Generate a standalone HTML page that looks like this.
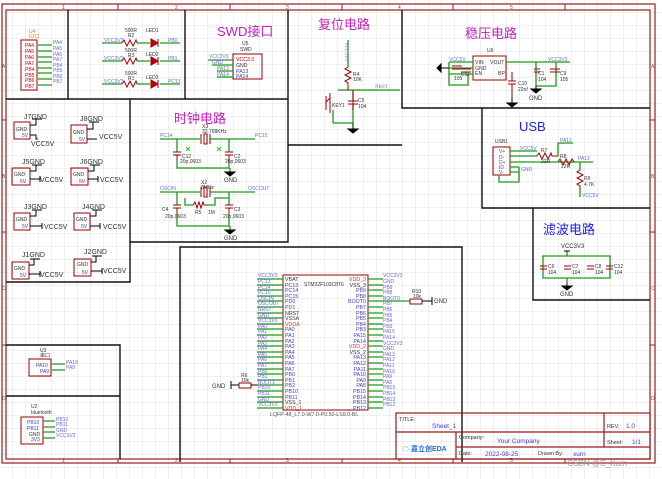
<!DOCTYPE html>
<html><head><meta charset="utf-8"><style>
html,body{margin:0;padding:0;background:#fff;}
svg{display:block;}
text{font-family:"Liberation Sans","Noto Sans CJK SC",sans-serif;}
.w{stroke:#1a9a1a;stroke-width:1.3;fill:none}
.r{stroke:#9b0000;stroke-width:1;fill:none}
.rf{stroke:#9b0000;stroke-width:1;fill:#fff}
.b{stroke:#111;stroke-width:1.4;fill:none}
.n{font-size:5px;fill:#6a6ad8;font-family:"Liberation Serif",serif}
.p{font-size:5.5px;fill:#4040c8}
.k{font-size:5px;fill:#333}
.m{fill:#c020c0;font-size:13px}
.u{fill:#2020e0;font-size:13px}
</style></head><body>
<svg width="662" height="479" viewBox="0 0 662 479" xmlns="http://www.w3.org/2000/svg">
<defs><pattern id="g" width="13" height="13" patternUnits="userSpaceOnUse"><path d="M13 0V13H0" fill="none" stroke="#e2e2e2" stroke-width="1"/></pattern></defs>
<rect width="662" height="479" fill="url(#g)"/>
<!-- frame -->
<rect x="2" y="4" width="653" height="459" fill="none" stroke="#9b1a1a" stroke-width="1.2"/>
<rect x="6" y="10" width="644" height="449" fill="none" stroke="#9b1a1a" stroke-width="1.2"/>
<g stroke="#9b1a1a"><path d="M118 4V10M230 4V10M342 4V10M453 4V10M565 4V10M118 459V463M230 459V463M342 459V463M453 459V463M565 459V463M2 120H6M2 232H6M2 345H6M650 120H655M650 232H655M650 345H655"/></g>
<g font-size="5" fill="#555"><text x="62" y="9">1</text><text x="175" y="9">2</text><text x="286" y="9">3</text><text x="398" y="9">4</text><text x="510" y="9">5</text><text x="62" y="462">1</text><text x="175" y="462">2</text><text x="286" y="462">3</text><text x="398" y="462">4</text><text x="510" y="462">5</text><text x="2" y="68">A</text><text x="2" y="178">B</text><text x="2" y="290">C</text><text x="2" y="400">D</text><text x="651" y="68">A</text><text x="651" y="178">B</text><text x="651" y="290">C</text><text x="651" y="400">D</text></g>
<!-- section boxes -->
<g class="b">
<path d="M68 10V99M185 10V99M6 99H288M288 10V145H402M402 10V108H650M482 108V208H650M533 208V300H650M130 99V242H288V99M6 282H130V242M180 462V247H462V462M6 345H120V459M6 396H120"/>
</g>
<!-- titles -->
<text x="217" y="36" class="m">SWD接口</text>
<text x="318" y="29" class="m">复位电路</text>
<text x="465" y="38" class="m">稳压电路</text>
<text x="174" y="123" class="m">时钟电路</text>
<text x="519" y="131" class="u">USB</text>
<text x="543" y="234" class="u">滤波电路</text>
<!-- IO header U4 -->
<text x="29" y="33" font-size="5" fill="#d08030">U4</text><text x="29" y="38" font-size="5" fill="#d08030">IO口</text>
<rect x="21" y="40" width="16" height="50" class="r" stroke-width="1.5"/>
<g font-size="5" fill="#c00000"><text x="25" y="47">PA4</text><text x="25" y="53">PA5</text><text x="25" y="59">PA6</text><text x="25" y="65">PA7</text><text x="25" y="71">PB4</text><text x="25" y="77">PB5</text><text x="25" y="82">PB6</text><text x="25" y="88">PB7</text></g>
<path class="w" d="M38 45H52M38 51H52M38 57H52M38 62H52M38 68H52M38 73H52M38 79H52M38 85H52"/>
<g class="n"><text x="53" y="44">PA4</text><text x="53" y="50">PA5</text><text x="53" y="56">PA6</text><text x="53" y="61">PA7</text><text x="53" y="67">PB4</text><text x="53" y="72">PB5</text><text x="53" y="78">PB6</text><text x="53" y="83">PB7</text></g>
<!-- LEDs -->
<g>
<path class="w" d="M102 43H122M137 43H150M160 43H180"/><path class="r" d="M122 43l2-3 3 6 3-6 3 6 3-6 1 3"/><path d="M151 39v8l7-4z M158 39v8" stroke="#9b0000" fill="#c00000"/>
<path class="w" d="M102 61H122M137 61H150M160 61H180"/><path class="r" d="M122 61l2-3 3 6 3-6 3 6 3-6 1 3"/><path d="M151 57v8l7-4z M158 57v8" stroke="#9b0000" fill="#c00000"/>
<path class="w" d="M102 84H122M137 84H150M160 84H180"/><path class="r" d="M122 84l2-3 3 6 3-6 3 6 3-6 1 3"/><path d="M151 80v8l7-4z M158 80v8" stroke="#9b0000" fill="#c00000"/>
</g>
<g class="n"><text x="104" y="42">VCC3V3</text><text x="104" y="60">VCC3V3</text><text x="104" y="83">VCC3V3</text><text x="168" y="42">PB0</text><text x="168" y="60">PB1</text><text x="168" y="83">PC13</text></g>
<g class="k"><text x="125" y="32">500R</text><text x="128" y="37">R2</text><text x="146" y="32">LED1</text><text x="125" y="52">500R</text><text x="128" y="57">R3</text><text x="146" y="56">LED2</text><text x="125" y="75">500R</text><text x="128" y="80">R1</text><text x="146" y="79">LED3</text></g>
<!-- SWD U5 -->
<text x="242" y="45" class="k">U5</text><text x="240" y="51" class="k">SWD</text>
<rect x="233" y="54" width="29" height="25" class="r"/>
<path class="w" d="M208 60H233M212 65H233M217 71H233M217 77H233"/>
<g font-size="5.2" fill="#333"><text x="236" y="61" fill="#c00000">VCC3.3</text><text x="236" y="67">GND</text><text x="236" y="73" fill="#4040c8">PA13</text><text x="236" y="78" fill="#4040c8">PA14</text></g>
<g class="n"><text x="209" y="58">VCC3V3</text><text x="212" y="64">GND</text><text x="217" y="70">PA13</text><text x="217" y="76">PA14</text></g>
<!-- Reset -->
<path class="w" d="M348 40V67M338 90H400M353 90V123M333 123H353M333 110V123"/>
<path class="r" d="M348 67l-3 2 6 3-6 3 6 3-6 3 3 2V90M353 90V101M348 101H358M348 104H358M353 104V110"/>
<text x="345" y="42" class="n" transform="rotate(90 345 42)">VCC3V3</text>
<text x="353" y="76" class="k">R4</text><text x="353" y="81" class="k">10K</text>
<text x="375" y="88" class="n">NRST</text>
<text x="358" y="102" class="k">C5</text><text x="358" y="108" class="k">104</text>
<path class="r" d="M330 93V113M330 98L326 102M326 96V110"/><text x="332" y="107" class="k">KEY1</text>
<path d="M353 123v6M348 129h10l-5 4z" stroke="#000" fill="#000"/>
<!-- Regulator -->
<rect x="473" y="56" width="33" height="24" class="r"/>
<text x="487" y="52" class="k">U6</text>
<g font-size="5.2" fill="#333"><text x="475" y="64">VIN</text><text x="475" y="70">GND</text><text x="475" y="75">EN</text><text x="490" y="64">VOUT</text><text x="498" y="75">BP</text></g>
<path class="w" d="M449 62H473M449 68H473M449 74H473M449 62V85H468V74M506 62H570M536 62V86H556V62"/>
<path d="M441 68h8M441 64v8l-4-4z" stroke="#000" fill="#000"/>
<path class="r" d="M452 66H462M452 69H462M461 69H471M461 72H471M512 72V81M508 81H516M508 84H516M512 84V98M534 69H540M534 72H540M550 69H560M550 72H560"/>
<path d="M512 98v5M507 103h10l-5 4z M536 86v3M531 89h10l-5 4z" stroke="#000" fill="#000"/>
<g class="k"><text x="454" y="80">105</text><text x="461" y="76">C11</text><text x="518" y="85">C10</text><text x="518" y="91">22nf</text><text x="538" y="75">C1</text><text x="538" y="81">104</text><text x="560" y="75">C9</text><text x="560" y="81">105</text><text x="529" y="100" font-size="6">GND</text></g>
<g class="n"><text x="449" y="61">VCC5V</text><text x="548" y="61">VCC3V3</text></g>
<!-- USB -->
<rect x="493" y="147" width="17" height="28" class="r"/>
<text x="495" y="143" class="k">USB1</text>
<g font-size="5" fill="#555"><text x="499" y="153">V+</text><text x="499" y="159">D-</text><text x="499" y="164">D+</text><text x="499" y="169">ID</text><text x="499" y="174">V-</text></g>
<path class="w" d="M510 151H537M510 156H537M510 162H575M510 167H519M510 172H519V182H499V175M519 167V172M556 156H558V143H573M575 162H593M580 162V170M580 190V197"/>
<path class="r" d="M537 156l2-3 3 6 3-6 3 6 3-6 1 3h5M558 162l2-3 3 6 3-6 3 6 3-6 2 3M580 170l-3 2 6 3-6 3 6 3-6 3 3 2v4"/>
<g class="n"><text x="520" y="150">VCC5V</text><text x="560" y="142">PA11</text><text x="578" y="160">PA12</text><text x="521" y="171">GND</text><text x="582" y="197">VCC5V</text></g>
<g class="k"><text x="541" y="152">R7</text><text x="541" y="163">22R</text><text x="560" y="158">R8</text><text x="561" y="168">22R</text><text x="584" y="180">R9</text><text x="584" y="186">4.7K</text></g>
<!-- Filter -->
<text x="561" y="248" font-size="6" fill="#333" font-family="Liberation Serif">VCC3V3</text>
<path class="w" d="M543 256H610V278H543ZM567 251V256M567 278V283"/>
<path class="r" d="M540 266H547M540 269H547M564 266H571M564 269H571M587 266H594M587 269H594M606 266H613M606 269H613"/>
<path d="M564 251h6M567 283v3M562 286h10l-5 4z" stroke="#000" fill="#000"/>
<g class="k"><text x="548" y="268">C6</text><text x="548" y="274">104</text><text x="572" y="268">C7</text><text x="572" y="274">104</text><text x="595" y="268">C8</text><text x="595" y="274">104</text><text x="614" y="268">C12</text><text x="614" y="274">104</text><text x="560" y="296" font-size="6">GND</text></g>
<!-- Connectors J -->
<g>
<rect x="14" y="122" width="16" height="17" class="r" stroke-width="1.4"/><rect x="71" y="125" width="16" height="18" class="r" stroke-width="1.4"/>
<rect x="12" y="168" width="18" height="17" class="r" stroke-width="1.4"/><rect x="71" y="168" width="17" height="17" class="r" stroke-width="1.4"/>
<rect x="14" y="213" width="16" height="17" class="r" stroke-width="1.4"/><rect x="74" y="213" width="16" height="17" class="r" stroke-width="1.4"/>
<rect x="12" y="262" width="17" height="17" class="r" stroke-width="1.4"/><rect x="74" y="259" width="17" height="17" class="r" stroke-width="1.4"/>
</g>
<g font-size="5" fill="#333"><text x="16" y="131">GND</text><text x="73" y="134">GND</text><text x="14" y="176">GND</text><text x="73" y="176">GND</text><text x="16" y="221">GND</text><text x="76" y="221">GND</text><text x="14" y="270">GND</text><text x="77" y="266">GND</text></g>
<g font-size="5" fill="#4040c8"><text x="22" y="137">5V</text><text x="79" y="141">5V</text><text x="20" y="183">5V</text><text x="79" y="183">5V</text><text x="22" y="228">5V</text><text x="81" y="228">5V</text><text x="20" y="277">5V</text><text x="82" y="274">5V</text></g>
<g stroke="#000" stroke-width="1" fill="none"><path d="M30 125H36V119M32 119H42M30 135H36V139H38M87 129H93V122M89 122H99M87 139H97M30 179H40M40 176V182M88 179H98M98 176V182M30 226H42M42 223V229M90 226H100M100 223V229M29 274H40M40 271V277M91 271H102M102 268V274M30 171H36V165M32 165H42M88 171H94V165M90 165H100M30 216H36V210M32 210H42M90 216H96V210M92 210H102M29 265H34V259M30 259H40M91 262H96V256M92 256H102"/></g>
<g font-family="Liberation Serif" font-size="7" fill="#333"><text x="24" y="119">J7GND</text><text x="80" y="121">J8GND</text><text x="31" y="146">VCC5V</text><text x="99" y="139">VCC5V</text><text x="22" y="164">J5GND</text><text x="80" y="164">J6GND</text><text x="40" y="182">VCC5V</text><text x="100" y="182">VCC5V</text><text x="24" y="209">J3GND</text><text x="82" y="209">J4GND</text><text x="44" y="229">VCC5V</text><text x="103" y="229">VCC5V</text><text x="22" y="257">J1GND</text><text x="84" y="254">J2GND</text><text x="40" y="277">VCC5V</text><text x="103" y="273">VCC5V</text></g>
<!-- Clock -->
<path class="w" d="M160 139H200M210 139H255M177 139V152M229 139V152M177 160V168H229V160M230 168V172M160 192H200M210 192H255M177 192V205M229 192V205M177 214V226H229V214M185 198V205H193M206 205H215V198H229M230 226V230"/>
<path class="r" d="M201 134V144M204 134H207V144H204ZM210 134V144M173 152H181M173 155H181M225 152H233M225 155H233M177 155V160M229 155V160M201 187V197M204 187H207V197H204ZM210 187V197M173 205H181M173 208H181M225 205H233M225 208H233M177 208V214M229 208V214M193 205l2-3 2 6 2-6 2 6 2-6 1 3h2"/>
<path d="M225 172h10l-5 4zM225 230h10l-5 4z" fill="#000" stroke="#000"/>
<g stroke="#2c2" stroke-width="1"><path d="M186 147l4 4M190 147l-4 4M217 147l4 4M221 147l-4 4"/></g>
<g class="n"><text x="160" y="137">PC14</text><text x="255" y="137">PC15</text><text x="160" y="190">OSCIN</text><text x="248" y="190">OSCOUT</text></g>
<g class="k"><text x="202" y="128">X3</text><text x="202" y="133">32.768KHz</text><text x="182" y="158">C12</text><text x="180" y="163">20p,0603</text><text x="234" y="158">C2</text><text x="225" y="163">20p,0603</text><text x="201" y="184">X2</text><text x="201" y="189">8MHz</text><text x="162" y="211">C4</text><text x="165" y="218">20p,0603</text><text x="195" y="214">R5</text><text x="208" y="214">1M</text><text x="234" y="211">C3</text><text x="223" y="218">20p,0603</text><text x="224" y="182" font-size="6">GND</text><text x="224" y="240" font-size="6">GND</text></g>
<!-- UART U3 -->
<text x="40" y="352" class="k">U3</text><text x="40" y="357" class="k">串口</text>
<rect x="29" y="359" width="22" height="17" class="r" stroke-width="1.4"/>
<g font-size="5" fill="#4040c8"><text x="36" y="367">PA10</text><text x="40" y="373">PA9</text></g>
<path class="w" d="M52 364H65M52 370H65"/>
<g class="n"><text x="66" y="364">PA10</text><text x="66" y="369">PA9</text></g>
<!-- Bluetooth U2 -->
<text x="31" y="408" class="k">U2</text><text x="31" y="414" class="k">bluetooth</text>
<rect x="21" y="417" width="22" height="27" class="r" stroke-width="1.4"/>
<g font-size="5" fill="#4040c8"><text x="27" y="424">PB10</text><text x="27" y="430">PB11</text><text x="29" y="436" fill="#333">GND</text><text x="31" y="441">3V3</text></g>
<path class="w" d="M43 421H55M43 427H55M43 432H55M43 438H55"/>
<g class="n"><text x="56" y="421">PB10</text><text x="56" y="426">PB11</text><text x="56" y="432">GND</text><text x="56" y="437">VCC3V3</text></g>
<!-- MCU -->
<rect x="283" y="275" width="85" height="135" class="r" stroke-width="1.2"/>
<text x="304" y="286" font-size="5" fill="#333">STM32F103C8T6</text>
<path class="w" d="M257 279H283M257 285H283M257 290H283M257 296H283M257 301H283M257 307H283M257 313H283M257 318H283M257 324H283M257 329H283M257 335H283M257 341H283M257 346H283M257 352H283M257 357H283M257 363H283M257 369H283M257 374H283M257 380H283M257 385H283M257 391H283M257 397H283M257 402H283M257 408H283"/>
<path class="w" d="M368 279H383M368 285H383M368 290H383M368 296H383M368 301H410M368 307H383M368 313H383M368 318H383M368 324H383M368 329H383M368 335H383M368 341H383M368 346H383M368 352H383M368 357H383M368 363H383M368 369H383M368 374H383M368 380H383M368 385H383M368 391H383M368 397H383M368 402H383M368 408H383"/>
<g font-size="5.3" fill="#4040c8">
<text x="285" y="281" fill="#333">VBAT</text><text x="285" y="287">PC13</text><text x="285" y="292">PC14</text><text x="285" y="298">PC15</text><text x="285" y="303">PD0</text><text x="285" y="309">PD1</text><text x="285" y="315" fill="#333">NRST</text><text x="285" y="320" fill="#333">VSSA</text><text x="285" y="326" fill="#e03030">VDDA</text><text x="285" y="331">PA0</text><text x="285" y="337">PA1</text><text x="285" y="343">PA2</text><text x="285" y="348">PA3</text><text x="285" y="354">PA4</text><text x="285" y="359">PA5</text><text x="285" y="365">PA6</text><text x="285" y="371">PA7</text><text x="285" y="376">PB0</text><text x="285" y="382">PB1</text><text x="285" y="387">PB2</text><text x="285" y="393">PB10</text><text x="285" y="399">PB11</text><text x="285" y="404" fill="#333">VSS_1</text><text x="285" y="410" fill="#e03030">VDD_1</text>
</g>
<g font-size="5.3" fill="#4040c8" text-anchor="end">
<text x="366" y="281" fill="#e03030">VDD_3</text><text x="366" y="287" fill="#333">VSS_3</text><text x="366" y="292">PB9</text><text x="366" y="298">PB8</text><text x="366" y="303">BOOT0</text><text x="366" y="309">PB7</text><text x="366" y="315">PB6</text><text x="366" y="320">PB5</text><text x="366" y="326">PB4</text><text x="366" y="331">PB3</text><text x="366" y="337">PA15</text><text x="366" y="343">PA14</text><text x="366" y="348" fill="#e03030">VDD_2</text><text x="366" y="354" fill="#333">VSS_2</text><text x="366" y="359">PA13</text><text x="366" y="365">PA12</text><text x="366" y="371">PA11</text><text x="366" y="376">PA10</text><text x="366" y="382">PA9</text><text x="366" y="387">PA8</text><text x="366" y="393">PB15</text><text x="366" y="399">PB14</text><text x="366" y="404">PB13</text><text x="366" y="410">PB12</text>
</g>
<g class="n" font-size="4.8">
<text x="258" y="277">VCC3V3</text><text x="258" y="283">PC13</text><text x="258" y="289">PC14</text><text x="258" y="294">PC15</text><text x="258" y="300">OSCIN</text><text x="258" y="305">OSCOUT</text><text x="258" y="311">NRST</text><text x="258" y="317">GND</text><text x="258" y="322">VCC3V3</text><text x="258" y="328">PA0</text><text x="258" y="333">PA1</text><text x="258" y="339">PA2</text><text x="258" y="345">PA3</text><text x="258" y="350">PA4</text><text x="258" y="356">PA5</text><text x="258" y="361">PA6</text><text x="258" y="367">PA7</text><text x="258" y="373">PB0</text><text x="258" y="378">PB1</text><text x="258" y="384">BOOT1</text><text x="258" y="389">PB10</text><text x="258" y="395">PB11</text><text x="258" y="401">GND</text><text x="258" y="406">VCC3V3</text>
<text x="383" y="277">VCC3V3</text><text x="383" y="283">GND</text><text x="383" y="289">PB9</text><text x="383" y="294">PB8</text><text x="383" y="300">BOOT0</text><text x="383" y="305">PB7</text><text x="383" y="311">PB6</text><text x="383" y="317">PB5</text><text x="383" y="322">PB4</text><text x="383" y="328">PB3</text><text x="383" y="333">PA15</text><text x="383" y="339">PA14</text><text x="383" y="345">VCC3V3</text><text x="383" y="350">GND</text><text x="383" y="356">PA13</text><text x="383" y="361">PA12</text><text x="383" y="367">PA11</text><text x="383" y="373">PA10</text><text x="383" y="378">PA9</text><text x="383" y="384">PA8</text><text x="383" y="389">PB15</text><text x="383" y="395">PB14</text><text x="383" y="401">PB13</text><text x="383" y="406">PB12</text>
</g>
<g font-size="5.3" fill="#555"><text x="270" y="416">LQFP-48_L7.0-W7.0-P0.50-LS9.0-BL</text></g>
<!-- R10 / R6 -->
<rect x="410" y="299" width="12" height="5" class="rf"/><path d="M422 301H432M432 297V305" stroke="#000"/>
<text x="412" y="293" class="k">R10</text><text x="413" y="298" class="k">10k</text><text x="434" y="303" font-size="6" fill="#333" font-family="Liberation Serif">GND</text>
<rect x="239" y="383" width="12" height="5" class="rf"/><path d="M251 385H257M239 385H231M231 381V389" stroke="#000"/>
<text x="241" y="377" class="k">R6</text><text x="241" y="382" class="k">10k</text><text x="212" y="388" font-size="6" fill="#333" font-family="Liberation Serif">GND</text>
<!-- Title block -->
<g stroke="#9b1a1a" stroke-width="1.2" fill="none"><rect x="396" y="413" width="254" height="46"/><path d="M396 432H650M456 447H650M456 432V459M604 413V447"/></g>
<g font-size="5.5" fill="#333"><text x="399" y="421">TITLE:</text><text x="459" y="439">Company:</text><text x="459" y="455">Date:</text><text x="538" y="455">Drawn By:</text><text x="607" y="428">REV:</text><text x="607" y="444">Sheet:</text></g>
<g font-size="6.5" fill="#4040e0"><text x="432" y="428">Sheet_1</text><text x="497" y="443">Your Company</text><text x="485" y="456">2022-08-25</text><text x="573" y="456">xurn</text><text x="626" y="428">1.0</text><text x="632" y="444">1/1</text></g>
<text x="402" y="451" font-size="7" fill="#2a6ad8" font-weight="bold">☁ 嘉立创EDA</text>
<text x="567" y="466" font-size="8" fill="#999">CSDN @C_Xurn</text>
</svg>
</body></html>
